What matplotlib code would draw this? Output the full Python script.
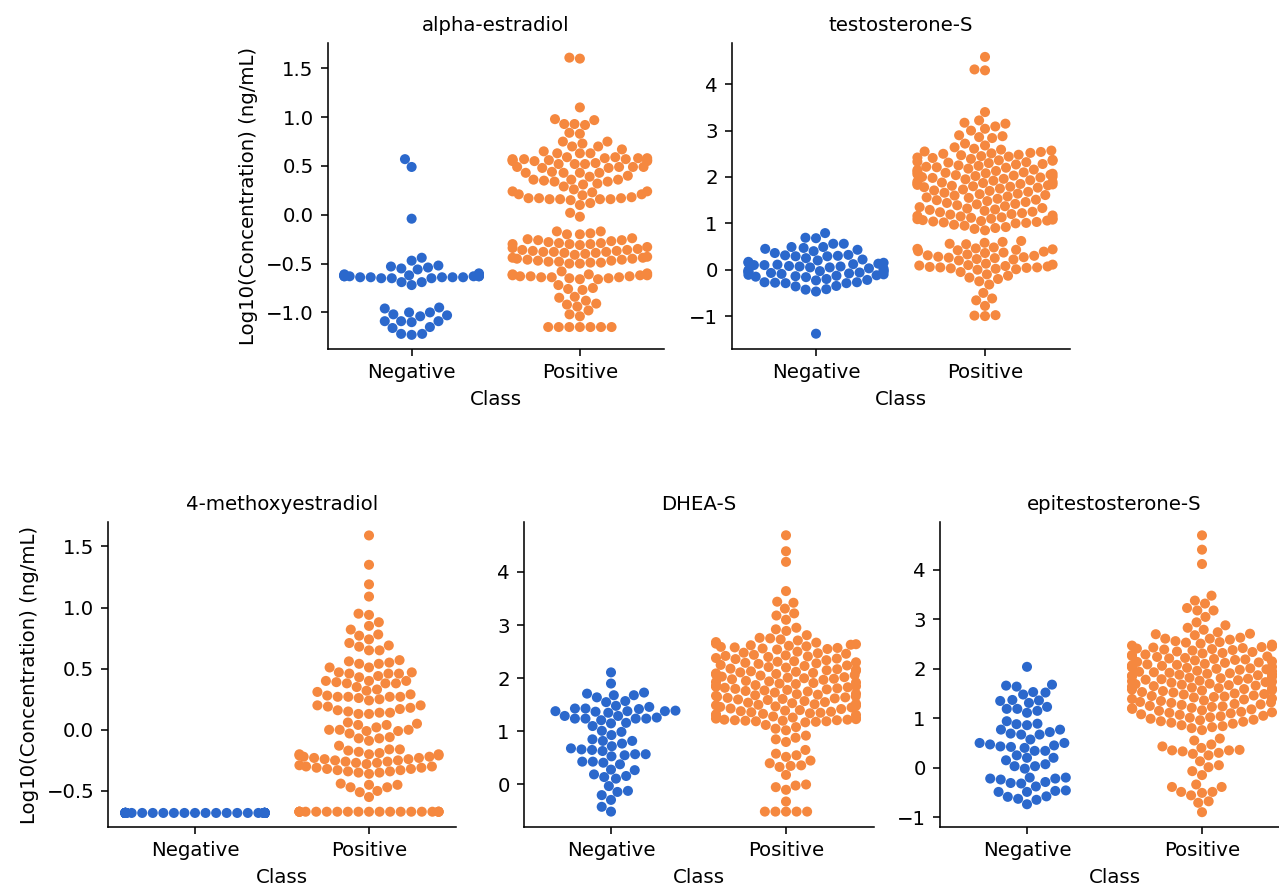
import warnings
import pandas as pd
import matplotlib
matplotlib.use("Agg")
import matplotlib.pyplot as plt
import seaborn as sns

warnings.filterwarnings("ignore")

BLUE = "#2b68cc"
ORANGE = "#f5883f"
classes = ["Negative", "Positive"]

# ---- alpha-estradiol
alpha_neg = [0.57, 0.49, -0.04, -0.44, -0.47, -0.52, -0.53, -0.54, -0.55, -0.56, -0.61,
             -0.60, -0.61, -0.62, -0.62, -0.63, -0.63, -0.63, -0.64, -0.64, -0.65, -0.65,
             -0.62, -0.63, -0.64, -0.63, -0.62, -0.64, -0.63, -0.65, -0.64,
             -0.69, -0.69, -0.72,
             -0.95, -0.96, -1.00, -1.00, -1.02, -1.03, -1.04, -1.09, -1.09, -1.09, -1.10,
             -1.15, -1.16, -1.22, -1.22, -1.23]
alpha_pos = [1.61, 1.60, 1.10, 0.98, 0.97, 0.93, 0.92, 0.93, 0.84, 0.83, 0.75, 0.75, 0.73, 0.70, 0.70,
             0.67, 0.65, 0.63, 0.63, 0.63,
             0.59, 0.58, 0.58, 0.58, 0.57, 0.57, 0.56, 0.56, 0.55, 0.55, 0.55, 0.53, 0.59, 0.57, 0.56,
             0.52, 0.52, 0.52, 0.49, 0.49, 0.49, 0.49, 0.48, 0.48,
             0.44, 0.43, 0.43, 0.43, 0.43, 0.40,
             0.39, 0.36, 0.36, 0.36, 0.35, 0.34, 0.34, 0.32, 0.31,
             0.29, 0.26, 0.24,
             0.24, 0.23, 0.21, 0.21, 0.20, 0.18, 0.17, 0.17, 0.17, 0.16, 0.16, 0.16, 0.16, 0.15,
             0.12, 0.10, 0.02, -0.02,
             -0.17, -0.17, -0.19, -0.20, -0.20,
             -0.24, -0.25, -0.26, -0.26, -0.27, -0.28, -0.29, -0.29, -0.30, -0.30, -0.30, -0.31,
             -0.33, -0.34, -0.35, -0.36, -0.36, -0.37, -0.37, -0.38, -0.38, -0.38, -0.39, -0.39, -0.40, -0.41,
             -0.43, -0.44, -0.44, -0.45, -0.45, -0.46, -0.46, -0.47, -0.47, -0.48, -0.48, -0.49, -0.49, -0.50, -0.50,
             -0.58, -0.60, -0.61, -0.61, -0.62, -0.62, -0.62, -0.63, -0.63, -0.63, -0.64, -0.64, -0.64,
             -0.65, -0.65, -0.66, -0.66,
             -0.72, -0.75, -0.76, -0.77, -0.84, -0.85, -0.88, -0.91, -0.92, -0.94, -0.98, -1.02, -1.04,
             -1.15, -1.15, -1.15, -1.15, -1.15, -1.15, -1.15]

# ---- testosterone-S
testo_neg = [0.79, 0.69, 0.68,
             0.56, 0.56, 0.49, 0.49, 0.47, 0.45, 0.43, 0.40,
             0.36, 0.32, 0.31, 0.30, 0.29, 0.29, 0.25, 0.22,
             0.20, 0.17, 0.15, 0.15, 0.13, 0.12, 0.11, 0.10, 0.10, 0.08, 0.07, 0.07, 0.05, 0.05, 0.03, 0.02,
             -0.01, -0.02, -0.03, -0.04, -0.04, -0.05, -0.06, -0.07, -0.08, -0.09, -0.10, -0.11, -0.12,
             -0.13, -0.14, -0.15, -0.16,
             -0.20, -0.22, -0.23, -0.27, -0.27, -0.28, -0.29, -0.29, -0.35, -0.36, -0.42, -0.43, -0.47,
             -1.38]
testo_pos = [4.59, 4.32, 4.30, 3.40, 3.22, 3.17, 3.15, 3.09, 3.04, 3.00, 2.90, 2.88, 2.86, 2.84,
             2.72, 2.68, 2.64, 2.61, 2.59, 2.57, 2.55, 2.54, 2.52, 2.51, 2.50, 2.48,
             2.47, 2.45, 2.44, 2.42, 2.41, 2.39, 2.37, 2.36, 2.35, 2.33, 2.32, 2.31,
             2.30, 2.28, 2.27, 2.25, 2.24, 2.22, 2.21, 2.20, 2.18, 2.16, 2.15, 2.13, 2.11,
             2.10, 2.09, 2.08, 2.07, 2.06, 2.05, 2.04, 2.03, 2.02, 2.01, 2.00, 1.99, 1.98, 1.96, 1.95, 1.93, 1.92,
             1.90, 1.89, 1.88, 1.87, 1.86, 1.85, 1.84, 1.83, 1.82, 1.81, 1.80, 1.79, 1.78, 1.77, 1.75, 1.73, 1.71,
             1.70, 1.68, 1.66, 1.64, 1.63, 1.61, 1.60, 1.58, 1.56, 1.55, 1.53, 1.51, 1.50,
             1.48, 1.46, 1.44, 1.42, 1.41, 1.39, 1.37, 1.35, 1.33, 1.32, 1.30, 1.29,
             1.27, 1.25, 1.24, 1.22, 1.20, 1.19, 1.17, 1.16, 1.15, 1.13, 1.12,
             1.11, 1.10, 1.09, 1.08, 1.07, 1.06, 1.05, 1.04, 1.03, 1.02, 1.01, 1.00,
             0.97, 0.95, 0.92, 0.90, 0.88, 0.85,
             0.62, 0.60, 0.58, 0.56, 0.55,
             0.48, 0.46, 0.45, 0.44, 0.43, 0.42, 0.40, 0.39, 0.37, 0.36,
             0.33, 0.31, 0.30, 0.28, 0.27, 0.26, 0.25, 0.23, 0.22, 0.20,
             0.13, 0.11, 0.10, 0.09, 0.08, 0.07, 0.06, 0.05, 0.05, 0.04, 0.03, 0.02, 0.01, 0.00,
             -0.05, -0.10, -0.13, -0.17, -0.20, -0.25, -0.32, -0.50,
             -0.62, -0.66, -0.78, -0.98, -1.00, -0.99]

# ---- 4-methoxyestradiol
meth_neg = [-0.68] * 60
meth_pos = [1.59, 1.35, 1.19, 1.09, 0.95, 0.94, 0.88, 0.85, 0.82, 0.78, 0.77, 0.74,
            0.71, 0.69, 0.68, 0.65, 0.65,
            0.57, 0.56, 0.55, 0.54, 0.54, 0.51, 0.51,
            0.47, 0.47, 0.46, 0.46, 0.46, 0.44, 0.43,
            0.40, 0.40, 0.40, 0.39, 0.38, 0.38, 0.38, 0.35,
            0.33, 0.32, 0.31,
            0.29, 0.28, 0.27, 0.27, 0.27, 0.27, 0.26, 0.25, 0.24,
            0.20, 0.20, 0.19, 0.18, 0.17, 0.16, 0.15, 0.14, 0.14, 0.13, 0.13,
            0.06, 0.05, 0.04, 0.04, 0.02, 0.00, 0.00, 0.00, -0.01, -0.01,
            -0.03, -0.06, -0.07, -0.07, -0.09,
            -0.13, -0.16, -0.16, -0.17, -0.18, -0.20, -0.20,
            -0.19, -0.20, -0.21, -0.21, -0.22, -0.22, -0.23, -0.23, -0.24, -0.24, -0.25, -0.25,
            -0.26, -0.26, -0.27, -0.27, -0.28,
            -0.29, -0.30, -0.30, -0.31, -0.31, -0.32, -0.32, -0.33, -0.33, -0.34, -0.34, -0.35, -0.35, -0.36,
            -0.44, -0.45, -0.45, -0.47, -0.47, -0.50, -0.51, -0.55] + [-0.67] * 20

# ---- DHEA-S
dhea_neg = [2.11, 1.90,
            1.73, 1.71, 1.68, 1.68, 1.64, 1.57, 1.55,
            1.48, 1.46, 1.43, 1.43, 1.42, 1.39, 1.37, 1.35,
            1.38, 1.38, 1.38, 1.29, 1.29, 1.26, 1.24, 1.24, 1.24, 1.24, 1.21, 1.16, 1.15,
            1.10, 1.01, 0.99, 0.93,
            0.85, 0.82, 0.82, 0.77, 0.72,
            0.68, 0.66, 0.65, 0.63, 0.57, 0.57, 0.55, 0.53,
            0.43, 0.43, 0.41, 0.38, 0.28, 0.27, 0.19, 0.16, 0.14, 0.11,
            -0.03, -0.12, -0.14, -0.20,
            -0.29, -0.42, -0.51]
dhea_pos = [4.69, 4.39, 4.19, 3.64,
            3.44, 3.42, 3.31, 3.22, 3.18, 3.10,
            2.95, 2.92, 2.89,
            2.81, 2.76, 2.75, 2.73, 2.71, 2.68,
            2.67, 2.65, 2.64, 2.63, 2.62, 2.61, 2.60, 2.59, 2.58, 2.57, 2.56, 2.55, 2.54,
            2.50, 2.48, 2.47, 2.46, 2.44, 2.43, 2.42, 2.41, 2.40, 2.38, 2.37, 2.36,
            2.34, 2.32, 2.31, 2.30, 2.29, 2.28, 2.27, 2.25, 2.24, 2.23, 2.21, 2.20,
            2.18, 2.17, 2.16, 2.15, 2.14, 2.13, 2.12, 2.11, 2.10, 2.09, 2.08, 2.07, 2.06, 2.05,
            2.03, 2.02, 2.01, 2.00, 1.99, 1.98, 1.97, 1.95, 1.94, 1.93, 1.92, 1.91, 1.90, 1.89,
            1.87, 1.86, 1.85, 1.84, 1.83, 1.82, 1.81, 1.80, 1.79, 1.78, 1.77, 1.76, 1.75, 1.73,
            1.71, 1.70, 1.69, 1.68, 1.67, 1.66, 1.65, 1.64, 1.63, 1.62, 1.61, 1.60, 1.59, 1.57,
            1.55, 1.54, 1.53, 1.52, 1.51, 1.50, 1.49, 1.48, 1.47, 1.46, 1.45, 1.43, 1.42,
            1.40, 1.39, 1.38, 1.37, 1.36, 1.35, 1.34, 1.33, 1.32, 1.31, 1.30, 1.28,
            1.26, 1.25, 1.24, 1.23, 1.22, 1.22, 1.21, 1.21, 1.20, 1.20, 1.19, 1.19, 1.18, 1.17,
            1.12, 1.08, 1.05, 1.02,
            0.92, 0.88, 0.85, 0.80,
            0.65, 0.58, 0.55, 0.52,
            0.45, 0.40, 0.36, 0.35, 0.33,
            0.18, 0.00, -0.02, -0.05, -0.10,
            -0.32,
            -0.51, -0.51, -0.51, -0.51, -0.51]

# ---- epitestosterone-S
epi_neg = [2.04,
           1.68, 1.66, 1.64, 1.53, 1.52, 1.48,
           1.37, 1.36, 1.35, 1.31, 1.23, 1.19, 1.19, 1.15, 1.11,
           0.94, 0.89, 0.88, 0.86,
           0.77, 0.77, 0.72, 0.69, 0.67, 0.67,
           0.57, 0.50, 0.50, 0.47, 0.45, 0.43, 0.42, 0.40, 0.34, 0.34,
           0.25, 0.20, 0.20, 0.15,
           0.07, 0.03, 0.03, -0.02,
           -0.20, -0.20, -0.22, -0.22, -0.24, -0.29, -0.31, -0.32, -0.38,
           -0.46, -0.47, -0.49, -0.49, -0.58, -0.59, -0.63, -0.65,
           -0.74]
epi_pos = [4.70, 4.41, 4.12, 3.48, 3.38, 3.32, 3.23, 3.18, 3.18, 3.05, 2.94, 2.88, 2.83, 2.79, 2.74, 2.68,
           2.71, 2.70, 2.63, 2.61, 2.61, 2.59, 2.56, 2.54,
           2.53, 2.51, 2.49, 2.47, 2.45, 2.44, 2.43, 2.42, 2.41, 2.40, 2.39, 2.38,
           2.37, 2.35, 2.34, 2.32, 2.31, 2.29, 2.28, 2.26, 2.25, 2.24, 2.22, 2.21, 2.20,
           2.19, 2.18, 2.17, 2.15, 2.14, 2.13, 2.12, 2.10, 2.09, 2.08, 2.07, 2.06, 2.05, 2.04, 2.03,
           2.02, 2.01, 2.00, 1.99, 1.98, 1.96, 1.95, 1.94, 1.93, 1.92, 1.91, 1.90, 1.89, 1.88, 1.87,
           1.86, 1.85, 1.84, 1.82, 1.81, 1.80, 1.79, 1.78, 1.77, 1.76, 1.75, 1.74, 1.73, 1.72, 1.70,
           1.69, 1.68, 1.67, 1.66, 1.65, 1.64, 1.62, 1.61, 1.60, 1.59, 1.58, 1.57, 1.56, 1.55, 1.53,
           1.52, 1.50, 1.49, 1.48, 1.46, 1.45, 1.44, 1.43, 1.42, 1.40, 1.39, 1.38, 1.36,
           1.35, 1.33, 1.32, 1.31, 1.29, 1.28, 1.27, 1.25, 1.24, 1.23, 1.21, 1.20,
           1.19, 1.18, 1.16, 1.15, 1.13, 1.12, 1.11, 1.10, 1.08, 1.07, 1.05,
           1.04, 1.02, 1.01, 0.99, 0.97, 0.96, 0.94, 0.93, 0.91,
           0.89, 0.86, 0.84, 0.82, 0.80, 0.76,
           0.59, 0.55, 0.47, 0.43, 0.40, 0.36, 0.35, 0.35, 0.33, 0.30, 0.28, 0.25,
           0.13, 0.05, 0.01, -0.07, -0.15, -0.34, -0.39, -0.39, -0.49, -0.49, -0.51, -0.56,
           -0.68, -0.71, -0.90]

titles = ["alpha-estradiol", "testosterone-S", "4-methoxyestradiol", "DHEA-S", "epitestosterone-S"]
groups = [(alpha_neg, alpha_pos), (testo_neg, testo_pos), (meth_neg, meth_pos),
          (dhea_neg, dhea_pos), (epi_neg, epi_pos)]
ylims = [(-1.375, 1.76), (-1.71, 4.89), (-0.795, 1.70), (-0.80, 4.94), (-1.20, 4.97)]
yticks = [[-1.0, -0.5, 0.0, 0.5, 1.0, 1.5], [-1, 0, 1, 2, 3, 4], [-0.5, 0.0, 0.5, 1.0, 1.5],
          [0, 1, 2, 3, 4], [-1, 0, 1, 2, 3, 4]]

W, H, DPI = 1279, 887, 142
fig = plt.figure(figsize=(W / DPI, H / DPI), dpi=DPI)

# pixel boxes: left, top, right, bottom
boxes = [(327.5, 43, 664, 349), (731.5, 43, 1069.5, 349),
         (108, 522, 456, 827), (523.5, 522, 873.5, 827), (939.5, 522, 1289.5, 827)]

for i, (box, (neg, pos)) in enumerate(zip(boxes, groups)):
    l, t, r, b = box
    ax = fig.add_axes([l / W, 1 - b / H, (r - l) / W, (b - t) / H])
    df = pd.DataFrame({"Class": ["Negative"] * len(neg) + ["Positive"] * len(pos),
                       "value": neg + pos})
    sns.swarmplot(data=df, x="Class", y="value", hue="Class", order=classes,
                  palette={"Negative": BLUE, "Positive": ORANGE}, size=5.1,
                  linewidth=0, legend=False, ax=ax)
    ax.set_ylim(*ylims[i])
    ax.set_yticks(yticks[i])
    ax.set_title(titles[i], fontsize=10)
    ax.set_xlabel("Class")
    if i in (0, 2):
        ax.set_ylabel("Log10(Concentration) (ng/mL)")
    else:
        ax.set_ylabel("")
    sns.despine(ax=ax)

fig.savefig("out.png", dpi=DPI)
